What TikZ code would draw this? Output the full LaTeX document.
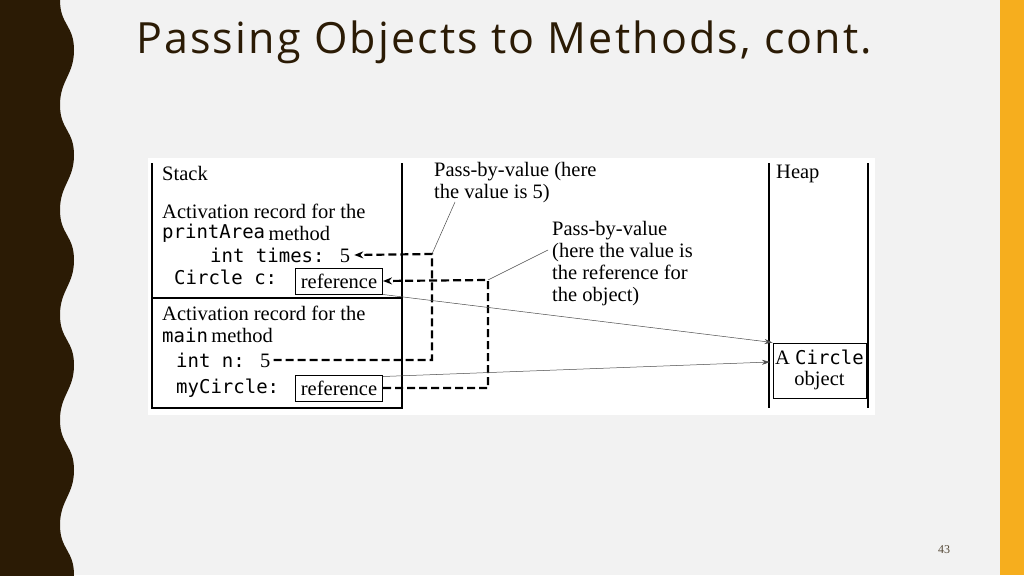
\documentclass[tikz,border=0pt]{standalone}
\usepackage{fontspec}
\setmainfont{Liberation Serif}
\newfontfamily\titlefont[LetterSpace=5]{Open Sans}
\newfontfamily\codefont{DejaVu Sans Mono}
\usetikzlibrary{arrows.meta}
\definecolor{bg}{HTML}{F2F2F2}
\definecolor{dk}{HTML}{2B1B05}
\definecolor{org}{HTML}{F6AE1E}
\tikzset{
 t/.style={anchor=west,inner sep=0pt,font=\fontsize{20.5}{22}\selectfont},
 c/.style={anchor=west,inner sep=0pt,font=\codefont\fontsize{19}{19}\selectfont},
 refbox/.style={draw,line width=1pt,inner sep=2pt,font=\fontsize{20.5}{20.5}\selectfont,minimum width=87pt,minimum height=26pt},
 dsh/.style={line width=2.2pt,dash pattern=on 8pt off 4pt},
 thin/.style={line width=0.5pt,draw=black!70},
}
\begin{document}
\begin{tikzpicture}[x=1pt,y=-1pt]
\useasboundingbox (0,0) rectangle (1024,575);
\fill[bg] (0,0) rectangle (1024,575);
\fill[org] (1000,0) rectangle (1024,575);
\fill[dk] (0,0) -- (60,0)
 \foreach \k in {0,...,5} { .. controls (60,{\k*105+25}) and (74,{\k*105+25}) .. (74,{\k*105+50})
   .. controls (74,{\k*105+75}) and (60,{\k*105+80}) .. (60,{\k*105+105}) } -- (0,630) -- cycle;
\node[anchor=west,inner sep=0pt,text=dk,font=\titlefont\fontsize{43}{43}\selectfont] (title) at (136,42) {Passing Objects to Methods, cont.};
\node[inner sep=0pt,font=\fontsize{12}{12}\selectfont,text=dk!80] (pg) at (944,550) {43};
\fill[white] (148,158) rectangle (875,415);
\draw[line width=1.2pt] (152,163) -- (152,408) -- (402,408) -- (402,163);
\draw[line width=1.2pt] (152,298) -- (402,298);
\draw[line width=1.2pt] (769,163) -- (769,408);
\draw[line width=1.2pt] (868,163) -- (868,408);
\node[t] (stack) at (162,173) {Stack};
\node[t] (heap) at (776,174) {Heap};
\node[t] (a1) at (162,211) {Activation record for the};
\node[c] (pa) at (162,233) {printArea};
\node[t] at (pa.east) [xshift=3pt] (pam) {method};
\node[c] (times) at (210,255) {int times: \rmfamily\fontsize{20.5}{20.5}\selectfont 5};
\node[c] (cc) at (174,277) {Circle c:};
\node[refbox] (r1) at (339,281) {reference};
\node[t] (a2) at (162,313) {Activation record for the};
\node[c] (mn) at (162,335) {main};
\node[t] at (mn.east) [xshift=3pt] (mnm) {method};
\node[c] (n) at (176,360) {int n: \rmfamily\fontsize{20.5}{20.5}\selectfont 5};
\node[c] (mc) at (176,388) {myCircle:};
\node[refbox] (r2) at (339,388) {reference};
\node[draw,line width=1pt,minimum width=93pt,minimum height=55pt,inner sep=0pt] (obj) at (819.5,370.5) {};
\node[inner sep=0pt,font=\fontsize{20.5}{20.5}\selectfont] (objt) at (819.5,357) {A \codefont\fontsize{19}{19}\selectfont Circle};
\node[inner sep=0pt,font=\fontsize{20.5}{20.5}\selectfont] (objo) at (819.5,381) {object};
\node[t,align=left,anchor=north west] (p1) at (434,162) {Pass-by-value (here\\the value is 5)};
\node[t,align=left,anchor=north west] (p2) at (552,221) {Pass-by-value\\(here the value is\\the reference for\\the object)};
\coordinate (j1) at (432,254);
\coordinate (j2) at (488,280);
\coordinate (j1b) at (432,360);
\coordinate (j2b) at (488,388);
\draw[dsh,-{Stealth[length=9pt,width=7pt]}] (n.east) ++(3pt,0) -- (j1b) -- (j1) -- ([xshift=4pt]times.east);
\draw[dsh,-{Stealth[length=9pt,width=7pt]}] (r2.east) -- (j2b) -- (j2) -- (r1.east);
\draw[thin] (j1) -- (455,202);
\draw[thin] (j2) -- (548,250);
\draw[thin,-{Stealth[length=8pt,width=5pt]}] (r1.south east) -- (obj.north west);
\draw[thin,-{Stealth[length=8pt,width=5pt]}] (r2.north east) ++(0,2) -- (770,362);
\end{tikzpicture}
\end{document}
